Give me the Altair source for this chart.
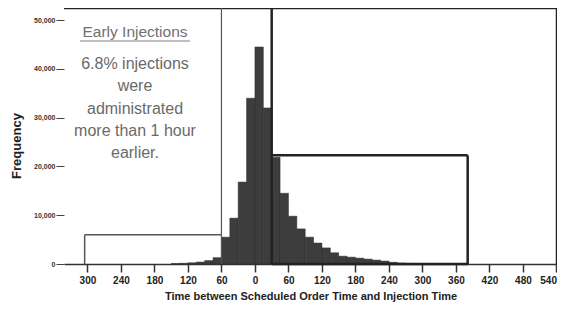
import altair as alt
import pandas as pd

# Histogram bins (15-minute bins), start of each bin in minutes
bin_starts = list(range(-150, 360, 15))
counts = [100, 150, 250, 400, 700, 1300,
          5500, 9400, 16800, 34000,
          44500, 32000, 21900, 14500,
          9800, 7200, 5500, 4300,
          3300, 2300, 1600, 1400,
          1200, 1000, 800, 600,
          350, 200, 120, 80,
          50, 40, 30, 20]
bin_width = 15

x_ticks = [-300, -240, -180, -120, -60, 0, 60, 120, 180, 240, 300, 360, 420, 480, 540]
y_ticks = [0, 10000, 20000, 30000, 40000, 50000]

# Annotation frame lines (data coordinates): x, x2, y, y2, width, color
line_x = [-342, 541, -60, 30, 30, 381, 30, -305, -305]
line_x2 = [541, 541, -60, 30, 381, 381, 381, -60, -305]
line_y = [52500, 0, 0, 0, 22300, 0, 0, 6000, 0]
line_y2 = [52500, 52500, 52500, 52500, 22300, 22300, 0, 6000, 6000]
line_w = [2.5, 2.5, 1.2, 2.5, 2.5, 2.5, 2.5, 1.5, 1.5]
line_c = ["#222222", "#222222", "#555555", "#222222", "#222222", "#222222", "#222222", "#555555", "#555555"]

note_title = "Early Injections"
note_lines = ["6.8% injections", "were", "administrated", "more than 1 hour", "earlier."]

df = pd.DataFrame({"start": bin_starts,
                   "end": [s + bin_width for s in bin_starts],
                   "count": counts,
                   "zero": [0] * len(counts)})
lines = pd.DataFrame({"x": line_x, "x2": line_x2, "y": line_y, "y2": line_y2,
                      "w": line_w, "c": line_c})

x_scale = alt.Scale(domain=[-342, 541], nice=False, zero=False)
y_scale = alt.Scale(domain=[0, 52500], nice=False)

x_axis = alt.Axis(values=x_ticks, labelExpr="format(abs(datum.value), 'd')",
                  grid=False, domainColor="#333333", domainWidth=1.5,
                  tickColor="#333333", tickWidth=1.5, tickSize=8,
                  labelFontSize=10, labelFontWeight="bold", labelColor="#222222",
                  labelPadding=3, labelFlush=False, labelOverlap=False,
                  labelAlign={"condition": {"test": "datum.value == 540", "value": "right"},
                              "value": "center"},
                  titleFontSize=11, titleFontWeight="bold", titleColor="#222222",
                  titlePadding=5)
y_axis = alt.Axis(values=y_ticks, labelExpr="format(datum.value, ',')",
                  grid=False, domain=False,
                  tickColor="#444444", tickWidth=1, tickSize=8,
                  labelFontSize=7, labelFontWeight="bold", labelColor="#333333",
                  labelPadding=1, labelOverlap=False)
x_title = "Time between Scheduled Order Time and Injection Time"

bars = alt.Chart(df).mark_rect(fill="#3d3d3d", stroke="#2a2a2a", strokeWidth=0.5).encode(
    x=alt.X("start:Q", scale=x_scale, axis=x_axis, title=x_title),
    x2="end:Q",
    y=alt.Y("count:Q", scale=y_scale, axis=y_axis, title=None),
    y2="zero:Q",
)

frames = alt.Chart(lines).mark_rule().encode(
    x=alt.X("x:Q", scale=x_scale, axis=x_axis, title=x_title),
    x2="x2:Q",
    y=alt.Y("y:Q", scale=y_scale, axis=y_axis, title=None),
    y2="y2:Q",
    strokeWidth=alt.StrokeWidth("w:Q", scale=None, legend=None),
    color=alt.Color("c:N", scale=None, legend=None),
)

title_txt = alt.Chart(pd.DataFrame({"t": [note_title]})).mark_text(
    fontSize=15.5, color="#707070", font="Liberation Sans", align="center", baseline="middle"
).encode(text="t:N", x=alt.value(71), y=alt.value(24))

underline = alt.Chart(pd.DataFrame({"a": [0]})).mark_rule(color="#808080", strokeWidth=1).encode(
    x=alt.value(16), x2=alt.value(126), y=alt.value(33))

body_txt = alt.Chart(pd.DataFrame({"t": [note_lines]})).mark_text(
    fontSize=16, color="#6a6a6a", font="Liberation Sans", align="center", baseline="middle",
    lineHeight=22.3
).encode(text="t", x=alt.value(71), y=alt.value(56))

ytitle = alt.Chart(pd.DataFrame({"t": ["Frequency"]})).mark_text(
    fontSize=13, fontWeight="bold", color="#222222", font="Liberation Sans",
    angle=270, align="center", baseline="middle"
).encode(text="t:N", x=alt.value(-47), y=alt.value(138))

chart = alt.layer(bars, frames, underline, title_txt, body_txt, ytitle).properties(
    width=493, height=256,
    autosize=alt.AutoSizeParams(type="none"),
    padding={"left": 56, "top": 0, "right": 0, "bottom": 40},
).configure_view(stroke=None).configure_axis(labelFont="Liberation Sans", titleFont="Liberation Sans")

chart.save("out.html", embed_options={"renderer": "svg", "actions": False})
